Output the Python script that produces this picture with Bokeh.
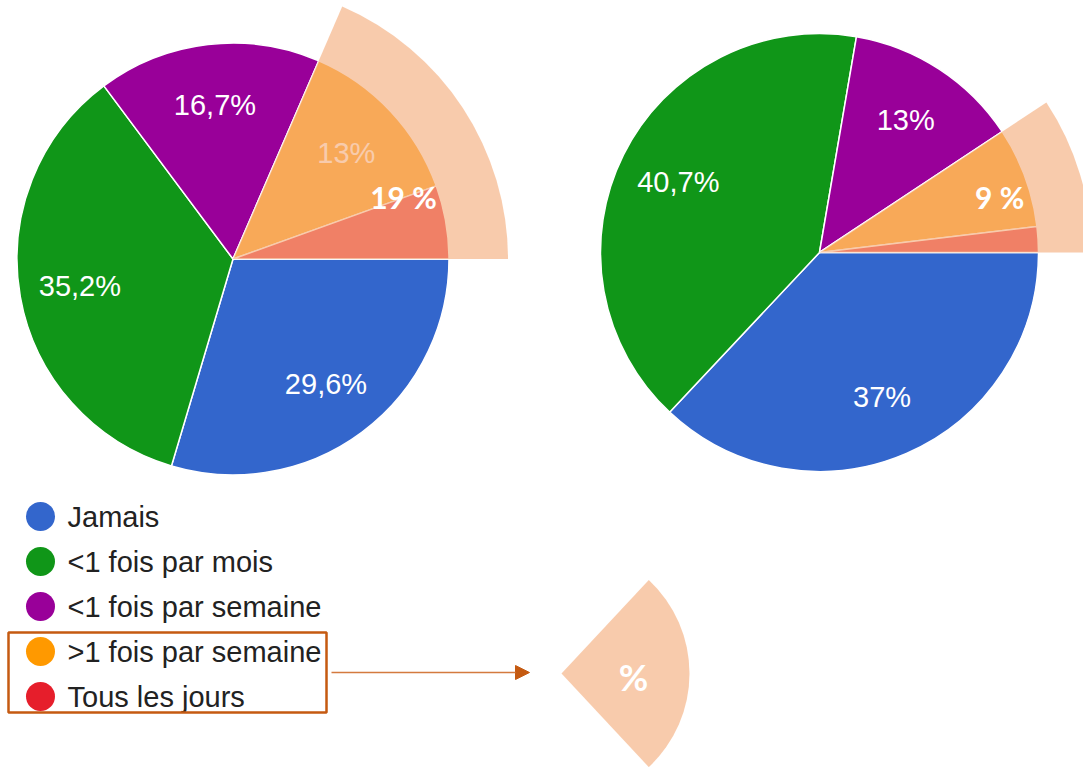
import math
from bokeh.plotting import figure
from bokeh.models import Range1d, ColumnDataSource, Arrow, NormalHead
from bokeh.core.properties import value
from bokeh.embed import file_html
from bokeh.resources import INLINE

# ---------------- data ----------------
categories = ["Jamais", "<1 fois par mois", "<1 fois par semaine",
              ">1 fois par semaine", "Tous les jours"]
colors = ["#3366CC", "#109618", "#990099", "#FF9900", "#E61E2B"]

left_values = [29.6, 35.2, 16.7, 13.0, 5.5]
left_labels = ["29,6%", "35,2%", "16,7%", "13%", ""]

right_values = [37.0, 40.7, 13.0, 7.4, 1.9]
right_labels = ["37%", "40,7%", "13%", "", ""]

left_group_label = "19 %"
right_group_label = "9 %"
key_label = "%"
highlight_from = 3  # index of first highlighted category (">1 fois par semaine")

# ---------------- layout ----------------
W, H = 1083, 767
def X(px):
    return px
def Y(py):
    return H - py

PEACH = "#F4B183"
PEACH_ALPHA = 0.67
BROWN = "#C55A11"
LABEL_FONT = value("Liberation Sans")
BOLD_FONT = value("Lato")

p = figure(width=W, height=H, output_backend="svg", toolbar_location=None,
           x_range=Range1d(0, W), y_range=Range1d(0, H),
           x_axis_location=None, y_axis_location=None, min_border=0)
p.outline_line_color = None
p.grid.visible = False
p.background_fill_color = "white"
p.border_fill_color = "white"


def draw_pie(cx, cy, r, r_high, vals, labels, group_label, group_ang_deg, group_rf):
    total = float(sum(vals))
    cum = 0.0
    starts, ends, lx, ly, ltxt = [], [], [], [], []
    bounds = []
    for v, lab in zip(vals, labels):
        c0 = cum / total * 2 * math.pi
        cum += v
        c1 = cum / total * 2 * math.pi
        bounds.append((c0, c1))
        starts.append(-c1)
        ends.append(-c0)
        m = (c0 + c1) / 2
        lx.append(cx + 0.72 * r * math.cos(-m))
        ly.append(cy + 0.72 * r * math.sin(-m))
        ltxt.append(lab)
    src = ColumnDataSource(dict(start=starts, end=ends, color=colors))
    p.wedge(x=cx, y=cy, radius=r, start_angle="start", end_angle="end",
            fill_color="color", line_color="white", line_width=1.5, source=src)
    lsrc = ColumnDataSource(dict(x=lx, y=ly, t=ltxt))
    p.text(x="x", y="y", text="t", source=lsrc, text_align="center",
           text_baseline="middle", text_color="white", text_font=LABEL_FONT,
           text_font_size="29px")
    # highlight overlay for the last categories
    h0 = bounds[highlight_from][0]
    p.wedge(x=cx, y=cy, radius=r_high, start_angle=-2 * math.pi, end_angle=-h0,
            fill_color=PEACH, fill_alpha=PEACH_ALPHA, line_color=None)
    ga = math.radians(group_ang_deg)
    p.text(x=[cx + group_rf * r * math.cos(-ga)], y=[cy + group_rf * r * math.sin(-ga)],
           text=[group_label], text_align="center", text_baseline="middle",
           text_color="white", text_font=BOLD_FONT, text_font_style="bold",
           text_font_size="30px")


draw_pie(X(232.5), Y(258.5), 216, 275, left_values, left_labels,
         left_group_label, 340, 0.84)
draw_pie(X(819), Y(252), 219, 272, right_values, right_labels,
         right_group_label, 343, 0.86)

# ---------------- legend ----------------
leg_y = [Y(516 + 45 * i) for i in range(len(categories))]
p.circle(x=[X(40)] * len(categories), y=leg_y, radius=14.5,
         fill_color=colors, line_color=None)
p.text(x=[X(67)] * len(categories), y=leg_y, text=categories,
       text_align="left", text_baseline="middle", text_color="#222222",
       text_font=LABEL_FONT, text_font_size="29px")

# box around highlighted legend entries
p.quad(left=[X(8)], right=[X(326)], top=[Y(632)], bottom=[Y(712)],
       fill_color=None, line_color=BROWN, line_width=2.5)

# arrow
p.add_layout(Arrow(end=NormalHead(size=14, fill_color=BROWN, line_color=BROWN),
                   x_start=X(331), y_start=Y(672), x_end=X(529), y_end=Y(672),
                   line_color="#D47A3F", line_width=1.5))

# key wedge
p.wedge(x=X(561), y=Y(673), radius=128, start_angle=-math.radians(47),
        end_angle=math.radians(47), fill_color=PEACH, fill_alpha=PEACH_ALPHA,
        line_color=None)
p.text(x=[X(633)], y=[Y(676)], text=[key_label], text_align="center",
       text_baseline="middle", text_color="white", text_font=BOLD_FONT,
       text_font_style="bold", text_font_size="36px")

open("out.html", "w").write(file_html(p, INLINE))
